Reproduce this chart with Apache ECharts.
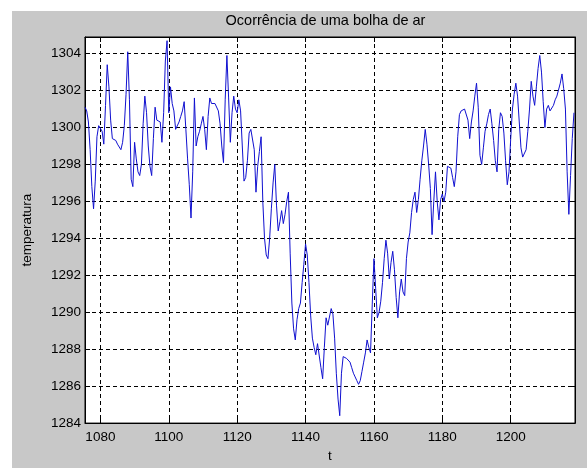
<!DOCTYPE html>
<html>
<head>
<meta charset="utf-8">
<title>Ocorrência de uma bolha de ar</title>
<script src="https://cdn.jsdelivr.net/npm/echarts@6/dist/echarts.min.js"></script>
<style>
  html, body { margin: 0; padding: 0; background: #ffffff; }
  body { width: 587px; height: 468px; position: relative; overflow: hidden; }
  #chart { position: absolute; left: 12px; top: 11px; width: 575px; height: 457px; }
</style>
</head>
<body>
<div id="chart"></div>
<script>
// Temperature record sampled every half time unit
const tStart = 1075.5;
const tStep = 0.5;
const temperatura = [
  1301.1,1300.9,1300.3,1298.8,1296.8,1295.6,1297.1,1299.5,1300.1,1300.2,
  1299.8,1299.1,1301.2,1303.4,1302.2,1300.4,1299.4,1299.3,1299.3,1299.1,
  1299.2,1298.8,1299.2,1300.1,1301.8,1304.1,1301.5,1297.2,1296.8,1299.2,
  1298.3,1297.6,1297.4,1298.0,1300.2,1301.7,1300.8,1299.0,1297.9,1297.4,
  1299.4,1301.1,1300.4,1300.4,1300.3,1299.2,1300.8,1303.6,1304.7,1300.8,
  1302.2,1301.3,1300.9,1299.9,1300.0,1300.3,1300.6,1300.9,1301.4,1299.9,
  1298.3,1296.9,1295.1,1297.6,1301.6,1299.0,1299.5,1299.8,1300.2,1300.6,
  1299.9,1298.8,1300.6,1301.6,1301.3,1301.3,1301.3,1301.2,1300.9,1300.2,
  1299.0,1298.1,1301.5,1303.9,1301.6,1299.2,1300.8,1301.7,1301.0,1300.8,
  1301.5,1300.9,1299.0,1297.1,1297.3,1298.2,1299.7,1299.9,1299.9,1298.8,
  1296.5,1297.9,1298.7,1299.5,1296.0,1294.0,1293.1,1292.9,1294.0,1295.6,
  1297.0,1298.0,1295.8,1294.4,1294.9,1295.5,1294.8,1295.3,1296.0,1296.5,
  1293.2,1290.5,1289.1,1288.5,1289.6,1290.2,1290.5,1291.6,1292.6,1293.7,
  1293.1,1291.6,1289.8,1288.6,1288.1,1287.7,1288.3,1288.3,1287.0,1286.4,
  1288.1,1289.7,1289.3,1289.2,1290.2,1289.9,1288.6,1286.7,1285.3,1284.4,
  1286.7,1287.6,1287.5,1287.5,1287.4,1287.3,1287.0,1286.7,1286.5,1286.3,
  1286.1,1286.3,1286.8,1287.3,1287.8,1288.5,1288.1,1287.8,1290.4,1292.9,
  1291.3,1289.7,1290.0,1290.6,1291.6,1292.9,1293.9,1293.2,1291.8,1292.7,
  1293.3,1292.3,1290.8,1289.7,1291.1,1291.8,1291.1,1290.9,1292.9,1293.8,
  1294.3,1295.4,1296.1,1296.5,1295.4,1296.1,1297.2,1298.2,1299.0,1299.9,
  1299.1,1298.0,1296.7,1294.2,1296.0,1297.6,1296.0,1295.0,1296.1,1296.4,
  1296.0,1296.5,1297.9,1298.0,1297.8,1297.3,1296.8,1297.6,1299.5,1300.7,
  1300.9,1300.9,1301.0,1301.1,1300.4,1299.4,1300.3,1300.9,1301.7,1302.4,
  1301.1,1298.5,1298.0,1298.9,1299.8,1300.2,1300.7,1301.0,1300.2,1299.3,
  1298.2,1297.6,1299.9,1300.8,1300.6,1299.7,1298.2,1296.9,1297.6,1299.4,
  1301.0,1301.8,1302.4,1301.7,1300.3,1298.9,1298.4,1298.5,1298.8,1299.8,
  1301.0,1302.5,1301.7,1301.2,1302.2,1303.2,1303.9,1303.0,1301.4,1300.0,
  1301.0,1301.2,1300.9,1300.9,1301.2,1301.5,1301.7,1301.8,1302.4,1302.9,
  1302.1,1301.0,1297.6,1295.3,1297.4,1299.4,1300.8
];

// Axis limits and labels
const xLimits = [1075.5, 1218.8];
const yLimits = [1284, 1304.9];
const xTickStep = 20;
const yTickStep = 2;
const titleText = 'Ocorrência de uma bolha de ar';
const xLabel = 't';
const yLabel = 'temperatura';

const points = temperatura.map((v, i) => [tStart + i * tStep, v]);

const FONT = '"Liberation Sans", Arial, Helvetica, sans-serif';
const dashed = { show: true, lineStyle: { color: '#000', width: 1, type: [4, 3] } };

function xAxisCfg(pos, withLabels) {
  return {
    type: 'value', position: pos, min: xLimits[0], max: xLimits[1],
    minInterval: xTickStep, maxInterval: xTickStep,
    axisLine: { show: true, onZero: false, lineStyle: { color: '#000', width: 1 } },
    axisTick: { show: true, inside: true, length: 5, lineStyle: { color: '#000' } },
    splitLine: withLabels ? dashed : { show: false },
    axisLabel: {
      show: withLabels, color: '#000', fontFamily: FONT, fontSize: 13.5, margin: 7,
      formatter: v => (Math.abs(v % xTickStep) < 1e-6 ? String(v) : '')
    },
    name: withLabels ? xLabel : '', nameLocation: 'middle', nameGap: 24,
    nameTextStyle: { color: '#000', fontFamily: FONT, fontSize: 13.5 }
  };
}

function yAxisCfg(pos, withLabels) {
  return {
    type: 'value', position: pos, min: yLimits[0], max: yLimits[1], interval: yTickStep,
    axisLine: { show: true, onZero: false, lineStyle: { color: '#000', width: 1 } },
    axisTick: { show: true, inside: true, length: 5, lineStyle: { color: '#000' } },
    splitLine: withLabels ? dashed : { show: false },
    axisLabel: {
      show: withLabels, color: '#000', fontFamily: FONT, fontSize: 13.5, margin: 4,
      formatter: v => (Math.abs(v % yTickStep) < 1e-6 ? String(v) : '')
    },
    name: withLabels ? yLabel : '', nameLocation: 'middle', nameGap: 51, nameRotate: 90,
    nameTextStyle: { color: '#000', fontFamily: FONT, fontSize: 13.5 }
  };
}

const chart = echarts.init(document.getElementById('chart'), null, { renderer: 'canvas' });
chart.setOption({
  backgroundColor: '#c8c8c8',
  animation: false,
  graphic: [{
    type: 'text', x: 313.5, y: 10,
    style: { text: titleText, fill: '#000', font: '14.5px ' + FONT, align: 'center', verticalAlign: 'middle' }
  }],
  grid: {
    left: 64, right: 12, top: 26, bottom: 37,
    show: true, backgroundColor: '#ffffff', borderColor: '#000', borderWidth: 1
  },
  xAxis: [xAxisCfg('bottom', true), xAxisCfg('top', false)],
  yAxis: [yAxisCfg('left', true), yAxisCfg('right', false)],
  series: [{
    type: 'line', data: points, xAxisIndex: 0, yAxisIndex: 0,
    showSymbol: false, symbol: 'none',
    lineStyle: { color: '#1010d0', width: 1 }
  }]
});
</script>
</body>
</html>
